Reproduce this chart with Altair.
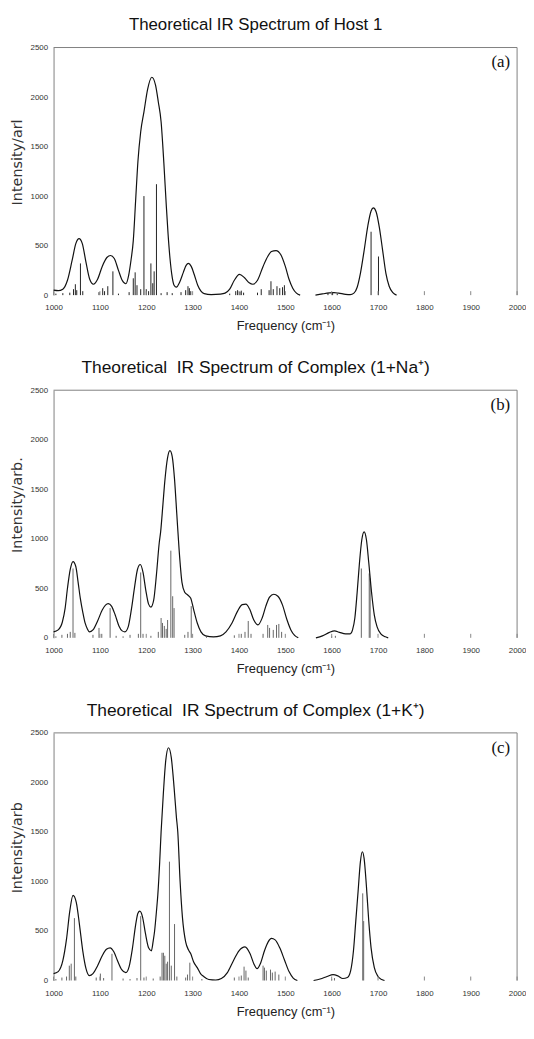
import altair as alt
import pandas as pd

# ---------------- data ----------------
x_ticks = [1000, 1100, 1200, 1300, 1400, 1500, 1600, 1700, 1800, 1900, 2000]
y_ticks = [0, 500, 1000, 1500, 2000, 2500]

titles = ["Theoretical IR Spectrum of Host 1",
          "Theoretical\u00a0 IR Spectrum of Complex (1+Na\u207a)",
          "Theoretical\u00a0 IR Spectrum of Complex (1+K\u207a)"]
title_sizes = [17, 17.5, 17.5]
y_titles = ["Intensity/arl", "Intensity/arb.", "Intensity/arb"]
panel_labels = ["(a)", "(b)", "(c)"]

# Panel (a) broadened envelope, two visible pieces
a_env1_x = [1000, 1010, 1020, 1030, 1040, 1048, 1055, 1062, 1070, 1078, 1086, 1095, 1105, 1115, 1123, 1131,
            1140, 1148, 1156, 1162, 1167, 1172, 1177, 1182, 1188, 1195, 1203, 1212, 1220, 1226, 1232, 1238,
            1243, 1247, 1251, 1256, 1260, 1265, 1272, 1280, 1286, 1291, 1297, 1304, 1311, 1318, 1325, 1340,
            1360, 1370, 1380, 1390, 1401, 1412, 1422, 1430, 1440, 1452, 1462, 1470, 1480, 1490, 1500, 1508,
            1516, 1524, 1532]
a_env1_y = [50, 45, 60, 150, 350, 520, 570, 520, 330, 160, 110, 160, 290, 380, 400, 370,
            250, 150, 115, 200, 350, 550, 950, 1350, 1650, 1850, 2080, 2200, 2120, 1950, 1750, 1330,
            920, 620, 380, 180, 100, 80, 130, 230, 300, 320, 290, 200, 100, 40, 15, 5,
            10, 20, 60, 150, 210, 175, 125, 110, 150, 290, 390, 440, 450, 410, 290, 160,
            70, 20, 0]
a_env2_x = [1565, 1580, 1595, 1605, 1615, 1630, 1640, 1648, 1655, 1662, 1670, 1678, 1685, 1690, 1696, 1703,
            1710, 1717, 1724, 1732, 1740]
a_env2_y = [0, 12, 22, 25, 20, 8, 5, 20, 80, 220, 450, 700, 850, 880, 840, 680,
            450, 220, 90, 25, 0]
# Panel (a) calculated lines
a_stick_x = [1005, 1020, 1035, 1043, 1047, 1050, 1058, 1063, 1098, 1106, 1110, 1117, 1128, 1140, 1163, 1172,
             1176, 1180, 1188, 1195, 1200, 1205, 1210, 1214, 1217, 1222, 1232, 1245, 1256, 1275, 1285, 1290,
             1293, 1296, 1380, 1393, 1397, 1402, 1405, 1410, 1440, 1448, 1465, 1469, 1474, 1482, 1488, 1494,
             1498, 1592, 1602, 1612, 1685, 1701]
a_stick_y = [15, 20, 25, 60, 110, 50, 320, 40, 30, 70, 40, 90, 240, 15, 30, 170,
             230, 100, 60, 1000, 60, 40, 320, 120, 240, 1120, 20, 30, 20, 30, 50, 90,
             70, 40, 15, 40, 50, 35, 45, 25, 25, 60, 50, 140, 60, 90, 70, 80,
             100, 20, 25, 15, 640, 390]

# Panel (b)
b_env1_x = [1000, 1010, 1019, 1025, 1030, 1036, 1042, 1048, 1053, 1058, 1063, 1068, 1073, 1077, 1085, 1095,
            1105, 1112, 1118, 1125, 1133, 1141, 1148, 1154, 1161, 1168, 1175, 1181, 1187, 1193, 1199, 1205,
            1210, 1216, 1222, 1228, 1231, 1236, 1240, 1246, 1251, 1256, 1261, 1266, 1271, 1277, 1283, 1290,
            1296, 1302, 1310, 1318, 1328, 1345, 1360, 1372, 1385, 1397, 1407, 1415, 1423, 1432, 1441, 1450,
            1458, 1466, 1475, 1484, 1494, 1503, 1512, 1520, 1528]
b_env1_y = [60, 80, 160, 300, 500, 690, 770, 720, 560, 390, 260, 150, 90, 60, 80, 170,
            280, 330, 345, 320, 230, 120, 70, 60, 110, 290, 520, 690, 740, 660, 480, 340,
            310, 380, 640, 960, 1070, 1350, 1580, 1820, 1890, 1830, 1600, 1240, 880, 560, 460, 430,
            400, 290, 150, 60, 20, 10, 20, 60, 150, 270, 335, 340, 290, 180, 130, 200,
            320, 410, 440, 420, 330, 190, 80, 25, 0]
b_env2_x = [1566, 1580, 1595, 1606, 1617, 1630, 1640, 1645, 1650, 1655, 1660, 1665, 1670, 1675, 1680, 1686,
            1692, 1698, 1706, 1716, 1722]
b_env2_y = [0, 20, 55, 70, 55, 40, 40, 80, 200, 460, 760, 990, 1070, 990, 760, 460,
            230, 110, 40, 10, 0]
b_stick_x = [1005, 1018, 1030, 1036, 1042, 1046, 1085, 1098, 1104, 1122, 1135, 1150, 1165, 1183, 1188, 1193,
             1210, 1226, 1232, 1235, 1239, 1243, 1246, 1253, 1257, 1260, 1283, 1290, 1297, 1330, 1390, 1405,
             1413, 1420, 1426, 1452, 1462, 1466, 1474, 1481, 1486, 1492, 1600, 1608, 1664, 1681, 1683]
b_stick_y = [15, 30, 40, 60, 700, 50, 30, 100, 40, 300, 20, 15, 30, 40, 660, 40,
             20, 60, 200, 150, 120, 90, 180, 880, 420, 300, 30, 60, 320, 10, 25, 40,
             60, 170, 40, 40, 130, 100, 80, 130, 140, 60, 15, 20, 700, 650, 600]

# Panel (c)
c_env1_x = [1000, 1010, 1020, 1028, 1035, 1042, 1049, 1056, 1063, 1070, 1077, 1085, 1095, 1105, 1114, 1122,
            1130, 1138, 1147, 1156, 1163, 1170, 1177, 1182, 1186, 1192, 1198, 1205, 1211, 1215, 1218, 1222,
            1225, 1229, 1232, 1237, 1242, 1248, 1254, 1260, 1265, 1268, 1273, 1278, 1285, 1291, 1296, 1302,
            1310, 1317, 1324, 1335, 1350, 1362, 1375, 1388, 1400, 1413, 1424, 1432, 1439, 1447, 1455, 1463,
            1470, 1478, 1488, 1498, 1508, 1517, 1526]
c_env1_y = [70, 90, 200, 420, 700, 860, 790, 560, 300, 120, 50, 70, 150, 250, 315, 330,
            290, 200, 110, 80, 140, 320, 560, 680, 700, 640, 480, 330, 300, 400, 500, 700,
            870, 1200, 1500, 1900, 2220, 2350, 2250, 1950, 1650, 1500, 1000, 640, 390, 310, 270, 190,
            130, 70, 40, 10, 5, 20, 80, 200, 300, 340, 270, 170, 120, 180, 300, 390,
            425, 410, 330, 210, 90, 25, 0]
c_env2_x = [1561, 1575, 1590, 1603, 1614, 1624, 1634, 1641, 1647, 1652, 1657, 1662, 1666, 1670, 1675, 1680,
            1685, 1692, 1700, 1708, 1714]
c_env2_y = [0, 15, 40, 60, 45, 20, 30, 100, 300, 600, 900, 1200, 1300, 1230, 950, 600,
            330, 130, 40, 10, 0]
c_stick_x = [1005, 1018, 1028, 1034, 1038, 1045, 1048, 1092, 1101, 1108, 1126, 1150, 1165, 1180, 1188, 1195,
             1215, 1230, 1234, 1237, 1240, 1243, 1246, 1250, 1254, 1261, 1266, 1285, 1289, 1294, 1320, 1390,
             1405, 1411, 1415, 1420, 1452, 1455, 1459, 1468, 1472, 1478, 1486, 1600, 1606, 1667, 1669]
c_stick_y = [15, 30, 40, 150, 170, 630, 40, 30, 70, 25, 270, 20, 15, 25, 650, 30,
             20, 40, 280, 280, 250, 170, 190, 1200, 150, 570, 40, 30, 60, 180, 15, 30,
             50, 140, 100, 30, 150, 130, 100, 110, 80, 90, 60, 15, 25, 880, 600]

# ---------------- chart ----------------
W, H = 468, 250
SANS = "Liberation Sans"
WIDE = "DejaVu Sans"


def panel(i, env_parts, sx, sy, stick_color):
    env = pd.concat([pd.DataFrame({"f": xs, "I": ys, "seg": k})
                     for k, (xs, ys) in enumerate(env_parts)], ignore_index=True)
    sticks = pd.DataFrame({"f": sx, "I": sy, "base": [0] * len(sx)})
    ticks = pd.DataFrame({"t": x_ticks})
    one = pd.DataFrame({"k": [0]})

    xsc = alt.Scale(domain=[1000, 2000], nice=False, zero=False)
    ysc = alt.Scale(domain=[0, 2500], nice=False)
    xax = alt.Axis(values=x_ticks, format="d", title="Frequency (cm\u207b\u00b9)", domain=False, ticks=False,
                   grid=False, labelFlush=False, labelFont=SANS, labelFontSize=8, labelColor="#333",
                   labelPadding=9, titleFont=SANS, titleFontSize=13, titleFontWeight="normal",
                   titleColor="#222", titlePadding=8)
    yax = alt.Axis(values=y_ticks, format="d", title=None, domain=True, domainColor="#808080",
                   domainWidth=1, ticks=False, grid=False, labelFont=SANS, labelFontSize=8, labelColor="#333",
                   labelPadding=6)

    line = alt.Chart(env).mark_line(color="#111", strokeWidth=1.2, interpolate="monotone").encode(
        x=alt.X("f:Q", scale=xsc, axis=xax),
        y=alt.Y("I:Q", scale=ysc, axis=yax),
        detail="seg:N",
    )
    stk = alt.Chart(sticks).mark_rule(color=stick_color, strokeWidth=1).encode(
        x=alt.X("f:Q", scale=xsc), y=alt.Y("I:Q", scale=ysc), y2="base:Q")
    tk = alt.Chart(ticks).mark_rule(color="#888", strokeWidth=1).encode(
        x=alt.X("t:Q", scale=xsc), y=alt.value(H), y2=alt.value(H - 4))
    top = alt.Chart(one).mark_rule(color="#808080", strokeWidth=1).encode(
        x=alt.value(0), x2=alt.value(W), y=alt.value(0))
    right = alt.Chart(one).mark_rule(color="#808080", strokeWidth=1).encode(
        x=alt.value(W), y=alt.value(0), y2=alt.value(H))
    lab = alt.Chart(one).mark_text(text=panel_labels[i], font="Liberation Serif", fontSize=17,
                                   align="right", baseline="middle", color="#111").encode(
        x=alt.value(W - 7), y=alt.value(15))
    ytl = alt.Chart(one).mark_text(text=y_titles[i], font=WIDE, fontSize=14.5, angle=270,
                                   align="center", baseline="middle", color="#333").encode(
        x=alt.value(-36), y=alt.value(116))

    return alt.layer(stk, line, tk, top, right, lab, ytl).properties(
        width=W, height=H,
        title=alt.TitleParams(titles[i], font=SANS, fontSize=title_sizes[i], fontWeight="normal",
                              color="#111", offset=10, anchor="middle", dx=-30),
    )


pa = panel(0, [(a_env1_x, a_env1_y), (a_env2_x, a_env2_y)], a_stick_x, a_stick_y, "#222")
pb = panel(1, [(b_env1_x, b_env1_y), (b_env2_x, b_env2_y)], b_stick_x, b_stick_y, "#666")
pc = panel(2, [(c_env1_x, c_env1_y), (c_env2_x, c_env2_y)], c_stick_x, c_stick_y, "#666")

chart = alt.vconcat(pa, pb, pc, spacing=26).properties(
    padding={"left": 2, "top": 3, "right": 0, "bottom": 0},
    background="white",
).configure_view(stroke=None)

chart.save("out.html", embed_options={"renderer": "svg", "actions": False})
